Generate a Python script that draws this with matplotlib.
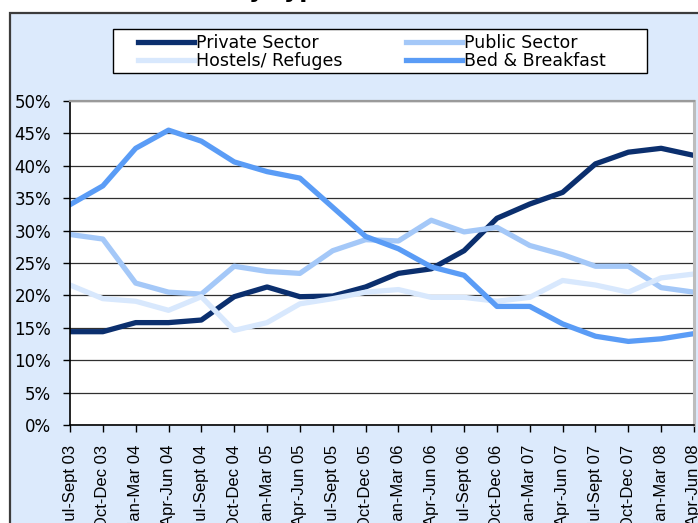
import numpy as np
import matplotlib
matplotlib.use("Agg")
import matplotlib.pyplot as plt
from matplotlib.patches import Rectangle
from matplotlib.ticker import PercentFormatter

#Quarter labels
quarters = ['Jul-Sept 03', 'Oct-Dec 03',
            'Jan-Mar 04', 'Apr-Jun 04', 'Jul-Sept 04', 'Oct-Dec 04',
            'Jan-Mar 05', 'Apr-Jun 05', 'Jul-Sept 05', 'Oct-Dec 05',
            'Jan-Mar 06', 'Apr-Jun 06', 'Jul-Sept 06', 'Oct-Dec 06',
            'Jan-Mar 07', 'Apr-Jun 07', 'Jul-Sept 07', 'Oct-Dec 07',
            'Jan-Mar 08', 'Apr-Jun 08']

#Share of each accommodation type (%)
private_sector = [14.4, 14.4, 15.8, 15.8, 16.2, 19.8, 21.3, 19.8, 19.9, 21.3,
                  23.4, 24.1, 26.9, 31.9, 34.1, 35.9, 40.3, 42.1, 42.7, 41.6]
public_sector = [29.4, 28.7, 21.9, 20.5, 20.2, 24.5, 23.7, 23.4, 26.9, 28.6,
                 28.4, 31.6, 29.8, 30.5, 27.7, 26.3, 24.5, 24.5, 21.2, 20.5]
hostels = [21.6, 19.5, 19.1, 17.7, 19.8, 14.6, 15.8, 18.7, 19.5, 20.5,
           20.9, 19.7, 19.7, 19.1, 19.7, 22.3, 21.6, 20.5, 22.7, 23.3]
bed_breakfast = [34.0, 36.9, 42.7, 45.5, 43.8, 40.6, 39.1, 38.1, 33.6, 29.1,
                 27.2, 24.4, 23.1, 18.3, 18.3, 15.6, 13.7, 12.9, 13.3, 14.1]

W, H = 698, 523
fig = plt.figure(figsize=(W / 100, H / 100), dpi=100)
fig.patch.set_facecolor('white')

#Chart area background with border (cropped on right and bottom)
fig.add_artist(Rectangle((10 / W, -0.05), 1.0, 1 - 12.7 / H + 0.05,
                         transform=fig.transFigure, facecolor='#DCEAFC',
                         edgecolor='#3c3c3c', lw=1.6, zorder=-1))

#Cut-off title, only descenders visible
fig.text(232 / W, 1 + 3 / H, 'by type', fontsize=17, weight='bold',
         ha='left', va='baseline')

ax = fig.add_axes([70 / W, 1 - 425 / H, (694 - 70) / W, (425 - 101) / H])
ax.set_facecolor('white')

x = np.arange(len(quarters))
l_priv, = ax.plot(x, private_sector, color='#0B2F6E', lw=3.8, label='Private Sector')
l_pub, = ax.plot(x, public_sector, color='#A4C8F8', lw=3.8, label='Public Sector')
l_hos, = ax.plot(x, hostels, color='#D8E8FD', lw=3.8, label='Hostels/ Refuges')
l_bnb, = ax.plot(x, bed_breakfast, color='#5A9CF6', lw=3.8, label='Bed & Breakfast')

ax.set_xlim(0, len(quarters) - 1)
ax.set_ylim(0, 50)
ax.set_yticks(np.arange(0, 51, 5))
ax.yaxis.set_major_formatter(PercentFormatter(100, decimals=0))
ax.set_xticks(x)
ax.set_xticklabels(quarters, rotation=90, family='Liberation Sans')

ax.tick_params(axis='both', direction='out', length=5, width=1,
               labelsize=12, color='black')
ax.tick_params(axis='x', pad=9)
ax.tick_params(axis='y', pad=8.5)

ax.yaxis.grid(True, color='#303030', lw=0.9)
ax.set_axisbelow(True)

ax.spines['left'].set_color('black')
ax.spines['left'].set_linewidth(1.2)
ax.spines['bottom'].set_color('black')
ax.spines['bottom'].set_linewidth(1.2)
ax.spines['top'].set_color('#9a9a9a')
ax.spines['top'].set_linewidth(1.6)
ax.spines['right'].set_color('#bdbdbd')
ax.spines['right'].set_linewidth(2.2)

#Legend box and entries
fig.add_artist(Rectangle((112.7 / W, 1 - 73.3 / H), (646.7 - 112.7) / W, 44 / H,
                         transform=fig.transFigure, facecolor='white',
                         edgecolor='black', lw=1, zorder=4))
leg = fig.legend([l_priv, l_hos, l_pub, l_bnb],
                 ['Private Sector', 'Hostels/ Refuges', 'Public Sector', 'Bed & Breakfast'],
                 ncol=2, loc='center left', bbox_to_anchor=(138 / W, 1 - 52 / H),
                 frameon=False, fontsize=12.5, handlelength=3.2, handletextpad=0.12,
                 columnspacing=3.7, labelspacing=0.0, borderpad=0, borderaxespad=0)
leg.set_zorder(5)

plt.savefig('out.png', dpi=100)
